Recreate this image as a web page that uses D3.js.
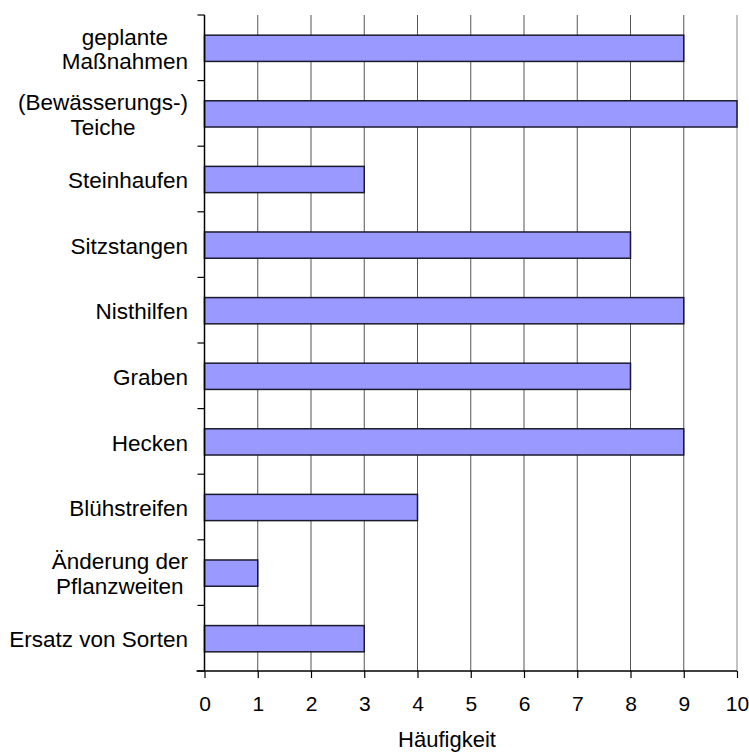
<!DOCTYPE html>
<html><head><meta charset="utf-8">
<script src="https://cdn.jsdelivr.net/npm/d3@7"></script>
<style>body{margin:0;background:#fff}svg{display:block}text{font-family:Arial,"Liberation Sans",sans-serif;fill:#000}</style>
</head><body><svg id="c" width="749" height="754"></svg>
<script>
const categories = [["geplante","Maßnahmen"],["(Bewässerungs-)","Teiche"],["Steinhaufen"],["Sitzstangen"],["Nisthilfen"],["Graben"],["Hecken"],["Blühstreifen"],["Änderung der","Pflanzweiten"],["Ersatz von Sorten"]];
const values = [9,10,3,8,9,8,9,4,1,3];
const xTicks = [0,1,2,3,4,5,6,7,8,9,10];
const xTitle = "Häufigkeit";

const svg = d3.select("#c");
const L = 204.5, R = 737, T = 15, B = 671;
const x = d3.scaleLinear().domain([0,10]).range([L,R]);
const y = d3.scaleBand().domain(d3.range(categories.length)).range([T,B]).paddingInner(0.6).paddingOuter(0.3);
const yb = d3.scaleBand().domain(d3.range(categories.length)).range([T,B]);

// grid
svg.append("g").selectAll("line").data(xTicks.slice(1)).join("line")
  .attr("x1",d=>x(d)).attr("x2",d=>x(d)).attr("y1",T).attr("y2",B)
  .attr("stroke",(d)=>d===10?"#888":"#555").attr("stroke-width",1);

// bars
svg.append("g").selectAll("rect").data(values).join("rect")
  .attr("x",x(0)).attr("y",(d,i)=>y(i)+0.5).attr("width",d=>x(d)-x(0)).attr("height",y.bandwidth())
  .attr("fill","#9999ff").attr("stroke","#1a1a2e").attr("stroke-width",1.5);

// y axis
const yTickPos = d3.range(categories.length+1).map(i=>T+i*yb.step());
svg.append("line").attr("x1",L).attr("x2",L).attr("y1",T).attr("y2",B).attr("stroke","#000").attr("stroke-width",1.5);
svg.append("g").selectAll("line").data(yTickPos).join("line")
  .attr("x1",L-7).attr("x2",L).attr("y1",d=>d).attr("y2",d=>d).attr("stroke","#000").attr("stroke-width",1.2);

// x axis
const xAxis = d3.axisBottom(x).tickValues(xTicks).tickSize(7).tickSizeOuter(0);
const gx = svg.append("g").attr("transform",`translate(0,${B})`).call(xAxis);
gx.select(".domain").attr("stroke","#000").attr("stroke-width",1.5).attr("d",`M${L-8},0H${R}`);
gx.selectAll(".tick line").attr("stroke","#000").attr("stroke-width",1.2);
gx.selectAll(".tick text").attr("font-size",21).attr("font-family","Arial,'Liberation Sans',sans-serif")
  .attr("fill","#000").attr("y",40).attr("dy",null);

svg.append("text").attr("x",447).attr("y",747).attr("text-anchor","middle").attr("font-size",22).text(xTitle);

// category labels
const labelRight = 188, lh = 24.5;
categories.forEach((lines,i)=>{
  const cy = yb(i)+yb.bandwidth()/2 + 1;
  const g = svg.append("g");
  const texts = lines.map((s,j)=>g.append("text").attr("font-size",22.5).text(s)
     .attr("y", cy + (j - (lines.length-1)/2)*lh).attr("dy","0.36em"));
  const widths = texts.map(t=>t.node().getComputedTextLength());
  const maxW = Math.max(...widths);
  const center = labelRight - maxW/2;
  texts.forEach(t=>t.attr("x",center).attr("text-anchor","middle"));
});
</script></body></html>
